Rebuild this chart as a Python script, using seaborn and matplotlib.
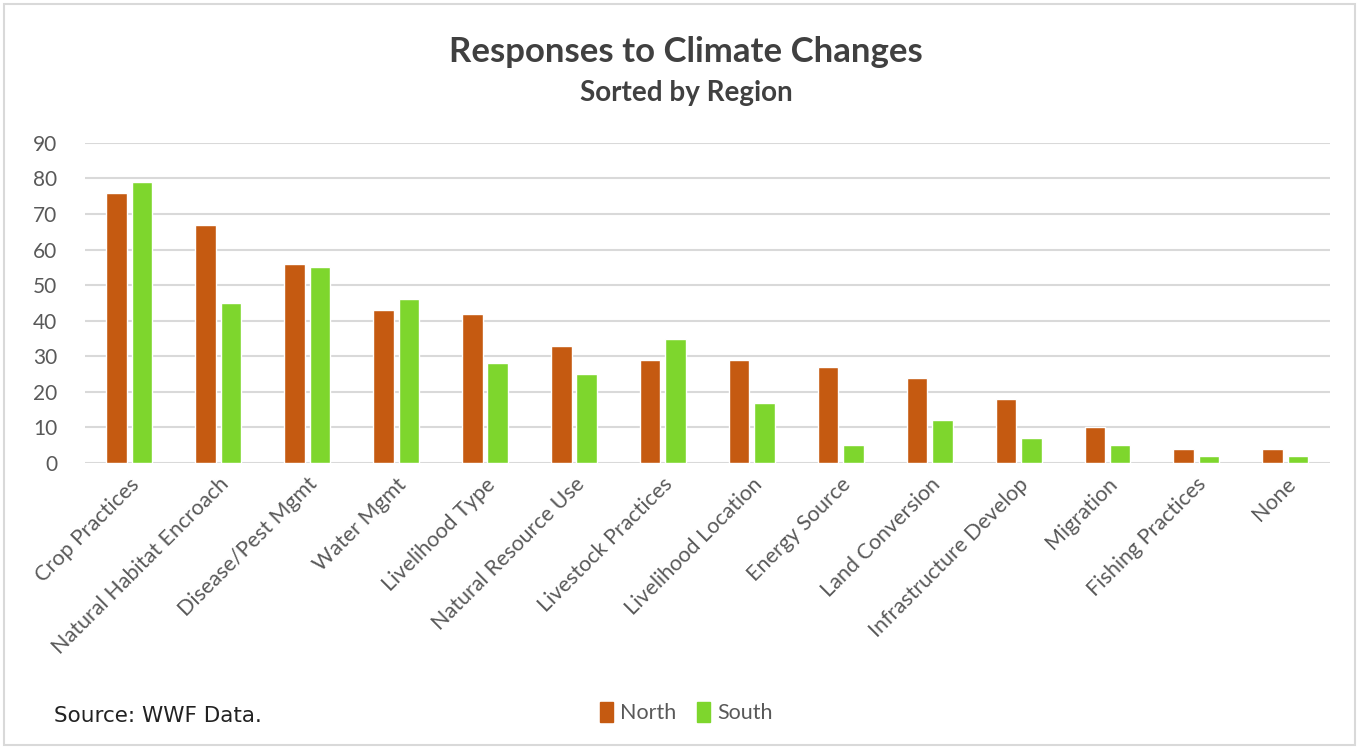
"""
Grouped bar chart: responses to climate changes by region
"""
import matplotlib
matplotlib.use('Agg')
import matplotlib.pyplot as plt
import seaborn as sns
import pandas as pd
from matplotlib.patches import Rectangle, Patch

# Data
categories = ['Crop Practices', 'Natural Habitat Encroach', 'Disease/Pest Mgmt',
              'Water Mgmt', 'Livelihood Type', 'Natural Resource Use',
              'Livestock Practices', 'Livelihood Location', 'Energy Source',
              'Land Conversion', 'Infrastructure Develop', 'Migration',
              'Fishing Practices', 'None']
north = [76, 67, 56, 43, 42, 33, 29, 29, 27, 24, 18, 10, 4, 4]
south = [79, 45, 55, 46, 28, 25, 35, 17, 5, 12, 7, 5, 2, 2]
regions = ['North', 'South']
colors = {'North': '#C55A11', 'South': '#7ED62D'}

df = pd.DataFrame({
    'category': categories * 2,
    'region': ['North'] * len(north) + ['South'] * len(south),
    'value': north + south,
})

sns.set_theme(style='white')
plt.rcParams['font.family'] = ['Lato', 'DejaVu Sans']

fig = plt.figure(figsize=(13.59, 7.48), dpi=100)
ax = fig.add_axes([0.0625, 0.381, 0.916, 0.428])

sns.barplot(data=df, x='category', y='value', hue='region', hue_order=regions,
            palette=colors, width=0.57, gap=0.19, ax=ax, legend=False,
            saturation=1)

ax.set_ylim(0, 90)
ax.set_yticks(range(0, 91, 10))
ax.set_xlim(-0.5, len(categories) - 0.5)
ax.yaxis.grid(True, color='#D9D9D9', linewidth=1.5)
ax.set_axisbelow(True)
for s in ax.spines.values():
    s.set_visible(False)
ax.set_xlabel('')
ax.set_ylabel('')
ax.tick_params(axis='y', labelsize=15, labelcolor='#595959', length=0, pad=20)
ax.tick_params(axis='x', labelsize=15.5, labelcolor='#595959', length=0, pad=8)
plt.setp(ax.get_xticklabels(), rotation=45, ha='right', rotation_mode='anchor')

fig.text(0.505, 0.931, 'Responses to Climate Changes', ha='center', va='center',
         fontsize=25, fontweight='bold', color='#404040')
fig.text(0.505, 0.876, 'Sorted by Region', ha='center', va='center',
         fontsize=20, fontweight='bold', color='#404040')

handles = [Patch(color=colors[r], label=r) for r in regions]
fig.legend(handles=handles, loc='center', bbox_to_anchor=(0.505, 0.047), ncol=2,
           frameon=False, fontsize=15.5, handlelength=0.6, handleheight=1.0,
           handletextpad=0.3, columnspacing=1.0, labelcolor='#595959')

fig.text(0.04, 0.043, 'Source: WWF Data.', ha='left', va='center',
         fontsize=15.5, color='#222222', family='DejaVu Sans')

# chart border
fig.add_artist(Rectangle((0.003, 0.004), 0.994, 0.99, transform=fig.transFigure,
                         fill=False, edgecolor='#D9D9D9', linewidth=1.5))

fig.savefig('out.png', dpi=100)
plt.close(fig)
